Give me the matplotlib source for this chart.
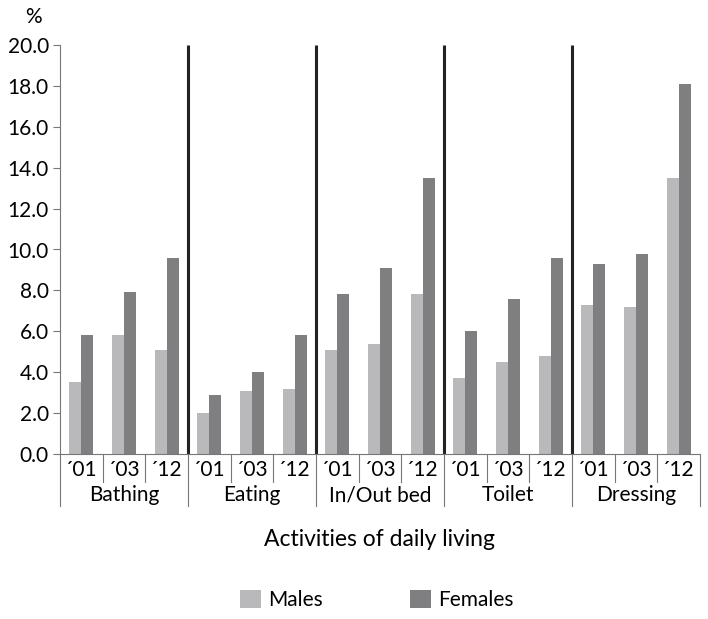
import numpy as np
import matplotlib.pyplot as plt
from matplotlib.transforms import blended_transform_factory

plt.rcParams['font.family'] = ['Lato', 'DejaVu Sans']

activities = ['Bathing', 'Eating', 'In/Out bed', 'Toilet', 'Dressing']
years = ['´01', '´03', '´12']
males = [3.5, 5.8, 5.1,  2.0, 3.1, 3.2,  5.1, 5.4, 7.8,  3.7, 4.5, 4.8,  7.3, 7.2, 13.5]
females = [5.8, 7.9, 9.6,  2.9, 4.0, 5.8,  7.8, 9.1, 13.5,  6.0, 7.6, 9.6,  9.3, 9.8, 18.1]
yticks = np.arange(0, 20.1, 2.0)

c_m = '#b9b9bc'
c_f = '#7f7f82'
fs = 15

fig = plt.figure(figsize=(7.08, 6.19), dpi=100)
ax = fig.add_axes([60/708, 165/619, 640/708, 409/619])

x = np.arange(len(males))
w = 0.28
ax.bar(x - w/2, males, w, color=c_m, label='Males')
ax.bar(x + w/2, females, w, color=c_f, label='Females')

ax.set_xlim(-0.5, len(males) - 0.5)
ax.set_ylim(0, 20)
ax.set_yticks(yticks)
ax.set_yticklabels(['%.1f' % v for v in yticks], fontsize=fs)
ax.tick_params(axis='y', length=5, width=0.8, color='#777777', pad=3)
ax.set_xticks([])
for s in ['top', 'right']:
    ax.spines[s].set_visible(False)
ax.spines['left'].set_color('#777777')
ax.spines['bottom'].set_color('#777777')
ax.spines['left'].set_linewidth(0.8)
ax.spines['bottom'].set_linewidth(0.8)

# thick separators between activities
for g in range(1, len(activities)):
    ax.plot([3*g - 0.5, 3*g - 0.5], [0, 20], color='#222222', lw=2.2, solid_capstyle='butt')

# category axis below
tr = blended_transform_factory(ax.transData, ax.transAxes)
px = 1 / 409
for i in range(len(males)):
    edge = i - 0.5
    if i % 3 == 0:
        ax.plot([edge, edge], [0, -52*px], color='#777777', lw=0.8, transform=tr, clip_on=False)
    else:
        ax.plot([edge, edge], [0, -28*px], color='#777777', lw=0.8, transform=tr, clip_on=False)
    ax.text(i, -16*px, years[i % 3], transform=tr, ha='center', va='center', fontsize=fs)
ax.plot([len(males) - 0.5]*2, [0, -52*px], color='#777777', lw=0.8, transform=tr, clip_on=False)
for g, name in enumerate(activities):
    ax.text(3*g + 1, -41*px, name, transform=tr, ha='center', va='center', fontsize=fs)

fig.text(33/708, 1 - 17/619, '%', ha='center', va='center', fontsize=fs)
fig.text(379/708, 1 - 540/619, 'Activities of daily living', ha='center', va='center', fontsize=16.5)

fig.legend(loc='center', bbox_to_anchor=(377/708, 1 - 600/619), ncol=2, frameon=False,
           fontsize=fs, handlelength=1.0, handleheight=1.0, columnspacing=4.2, handletextpad=0.35)

fig.savefig('out.png', dpi=100)
